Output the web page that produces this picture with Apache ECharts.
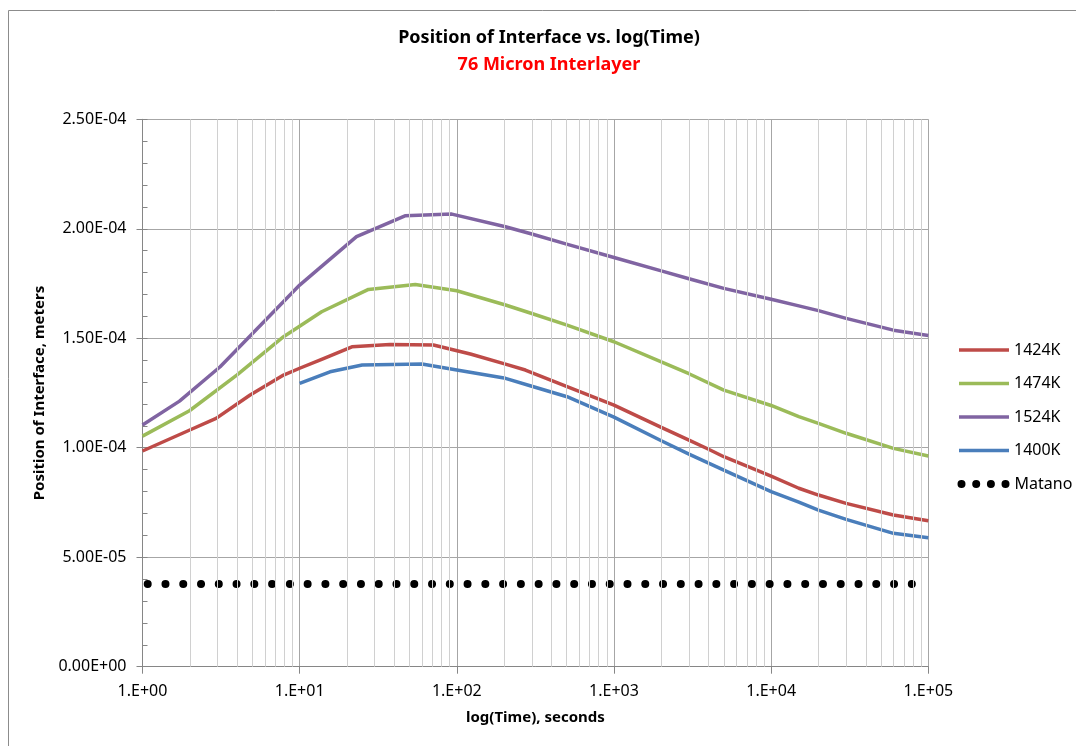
<!DOCTYPE html>
<html>
<head>
<meta charset="utf-8">
<title>Position of Interface vs. log(Time)</title>
<script src="https://cdn.jsdelivr.net/npm/echarts@6/dist/echarts.min.js"></script>
<style>
    html, body { margin: 0; padding: 0; background: #fff; }
    #main { width: 1076px; height: 746px; }
</style>
</head>
<body>
<div id="main"></div>
<script>
// tick labels
let xTickLabels = ['1.E+00', '1.E+01', '1.E+02', '1.E+03', '1.E+04', '1.E+05'];
let yTickLabels = ['0.00E+00', '5.00E-05', '1.00E-04', '1.50E-04', '2.00E-04', '2.50E-04'];

// time (s) and interface position (m)
let t1424 = [1, 2, 2.94, 4.84, 7.9, 10, 13.8, 21.5, 37.6, 71, 122, 204, 273, 503, 1000, 2000, 3000, 4000, 5000, 1e4, 1.5e4, 2e4, 3e4, 6e4, 1e5];
let y1424 = [0.985e-4, 1.081e-4, 1.134e-4, 1.241e-4, 1.332e-4, 1.363e-4, 1.404e-4, 1.461e-4, 1.472e-4, 1.469e-4, 1.428e-4, 1.382e-4, 1.355e-4, 1.279e-4, 1.195e-4, 1.093e-4, 1.035e-4, 0.993e-4, 0.959e-4, 0.870e-4, 0.815e-4, 0.784e-4, 0.746e-4, 0.693e-4, 0.667e-4];

let t1474 = [1, 1.99, 3.98, 7.9, 13.8, 27.4, 54.4, 100, 204, 300, 503, 1000, 2000, 3000, 5000, 1e4, 1.5e4, 2e4, 3e4, 6e4, 1e5];
let y1474 = [1.053e-4, 1.169e-4, 1.332e-4, 1.507e-4, 1.621e-4, 1.723e-4, 1.746e-4, 1.717e-4, 1.652e-4, 1.613e-4, 1.560e-4, 1.484e-4, 1.392e-4, 1.338e-4, 1.263e-4, 1.193e-4, 1.142e-4, 1.111e-4, 1.066e-4, 0.997e-4, 0.962e-4];

let t1524 = [1, 1.72, 3.12, 10, 12.6, 23, 46.8, 93, 204, 300, 500, 1000, 2000, 3000, 5000, 1e4, 1.5e4, 2e4, 3e4, 6e4, 1e5];
let y1524 = [1.104e-4, 1.213e-4, 1.370e-4, 1.743e-4, 1.804e-4, 1.964e-4, 2.059e-4, 2.067e-4, 2.009e-4, 1.976e-4, 1.930e-4, 1.869e-4, 1.808e-4, 1.772e-4, 1.728e-4, 1.678e-4, 1.648e-4, 1.626e-4, 1.591e-4, 1.537e-4, 1.513e-4];

let t1400 = [10, 15.6, 25, 60, 100, 204, 300, 503, 1000, 2000, 3000, 5000, 1e4, 1.5e4, 2e4, 3e4, 6e4, 1e5];
let y1400 = [1.294e-4, 1.347e-4, 1.378e-4, 1.382e-4, 1.355e-4, 1.317e-4, 1.281e-4, 1.233e-4, 1.140e-4, 1.032e-4, 0.971e-4, 0.898e-4, 0.800e-4, 0.752e-4, 0.715e-4, 0.673e-4, 0.609e-4, 0.589e-4];

let tMatano = [1, 1e5];
let yMatano = [3.78e-5, 3.78e-5];

// minor vertical gridlines: 2..9 in every decade
let xMinorGrid = [];
for (let k = 0; k < 5; k++) {
    for (let m = 2; m < 10; m++) {
        xMinorGrid.push(m * Math.pow(10, k));
    }
}

function pairs(xs, ys) {
    return xs.map(function(x, i) { return [x, ys[i]]; });
}

(function() {
    let font = 'Noto Sans';
    let chart = echarts.init(document.getElementById('main'));

    function lineSeries(name, color, xs, ys) {
        return {
            name: name,
            type: 'line',
            data: pairs(xs, ys),
            symbol: 'none',
            z: 3,
            color: color,
            lineStyle: {color: color, width: 3.5, join: 'round'}
        };
    }

    let dots = 'path://M0,4a4,4 0 1,0 8,0a4,4 0 1,0 -8,0Z' +
        'M14.7,4a4,4 0 1,0 8,0a4,4 0 1,0 -8,0Z' +
        'M29.4,4a4,4 0 1,0 8,0a4,4 0 1,0 -8,0Z' +
        'M44,4a4,4 0 1,0 8,0a4,4 0 1,0 -8,0Z';

    let option = {
        animation: false,
        backgroundColor: '#fff',
        textStyle: {fontFamily: font},
        graphic: [
            {type: 'rect', shape: {x: 8.5, y: 10.5, width: 1100, height: 800},
                style: {fill: 'none', stroke: '#8c8c8c', lineWidth: 1}, silent: true},
            {type: 'text', style: {text: 'Position of Interface vs. log(Time)', x: 549, y: 38,
                    align: 'center', verticalAlign: 'middle', fill: '#000',
                    font: 'bold 18px "Noto Sans"'}},
            {type: 'text', style: {text: '76 Micron Interlayer', x: 549, y: 65,
                    align: 'center', verticalAlign: 'middle', fill: '#ff0000',
                    font: 'bold 18px "Noto Sans"'}}
        ],
        grid: {left: 142.5, right: 147.7, top: 119.3, bottom: 79.3, containLabel: false, outerBoundsMode: 'none'},
        legend: [{
            orient: 'vertical', left: 959, top: 342, padding: 0,
            icon: 'rect', itemWidth: 50, itemHeight: 3.3, itemGap: 17.5,
            textStyle: {fontSize: 16, color: '#000', fontFamily: font},
            data: ['1424K', '1474K', '1524K', '1400K']
        }, {
            orient: 'vertical', left: 957.5, top: 476, padding: 0,
            itemWidth: 52, itemHeight: 8,
            textStyle: {fontSize: 16, color: '#000', fontFamily: font},
            data: [{name: 'Matano', icon: dots, itemStyle: {color: '#000', borderWidth: 0}}]
        }],
        xAxis: {
            type: 'log', logBase: 10, min: 1, max: 1e5,
            name: 'log(Time), seconds', nameLocation: 'middle', nameGap: 44,
            nameTextStyle: {fontSize: 15, fontWeight: 'bold', color: '#000', fontFamily: font},
            axisLine: {lineStyle: {color: '#868686', width: 1}},
            axisTick: {show: true, inside: false, length: 7, lineStyle: {color: '#868686'}},
            axisLabel: {
                margin: 17, fontSize: 16, color: '#000', fontFamily: font,
                formatter: function(v) { return xTickLabels[Math.round(Math.log10(v))]; }
            },
            splitLine: {show: true, lineStyle: {color: '#a6a6a6', width: 1}},
            minorTick: {show: false},
            minorSplitLine: {show: false}
        },
        yAxis: [{
            type: 'value', min: 0, max: 2.5e-4, interval: 5e-5,
            name: 'Position of Interface, meters', nameLocation: 'middle', nameGap: 94,
            nameTextStyle: {fontSize: 15, fontWeight: 'bold', color: '#000', fontFamily: font},
            axisLine: {show: true, lineStyle: {color: '#868686', width: 1}},
            axisTick: {show: true, inside: false, length: 6, lineStyle: {color: '#868686'}},
            axisLabel: {
                margin: 16, fontSize: 16, color: '#000', fontFamily: font,
                formatter: function(v) { return yTickLabels[Math.round(v / 5e-5)]; }
            },
            splitLine: {show: true, lineStyle: {color: '#a6a6a6', width: 1}}
        }, {
            // inner minor ticks every 1e-5
            type: 'value', min: 0, max: 2.5e-4, interval: 1e-5, position: 'left',
            axisLine: {show: false},
            axisTick: {show: true, inside: true, length: 5, lineStyle: {color: '#868686'}},
            axisLabel: {show: false},
            splitLine: {show: false}
        }],
        series: [
            {
                name: 'minorGrid', type: 'line', data: [], z: 1, silent: true,
                markLine: {
                    silent: true, symbol: 'none', animation: false,
                    label: {show: false},
                    lineStyle: {color: '#d0d0d0', width: 1, type: 'solid'},
                    emphasis: {disabled: true},
                    data: xMinorGrid.map(function(v) { return {xAxis: v}; })
                }
            },
            lineSeries('1424K', '#be4b48', t1424, y1424),
            lineSeries('1474K', '#9bbb59', t1474, y1474),
            lineSeries('1524K', '#8064a2', t1524, y1524),
            lineSeries('1400K', '#4a7ebb', t1400, y1400),
            {
                name: 'Matano', type: 'line', data: pairs(tMatano, yMatano),
                symbol: 'none', z: 3, color: '#000',
                lineStyle: {color: '#000', width: 8, type: [0.01, 17.76], dashOffset: 12.57, cap: 'round'}
            }
        ]
    };
    chart.setOption(option);
})();
</script>
</body>
</html>
